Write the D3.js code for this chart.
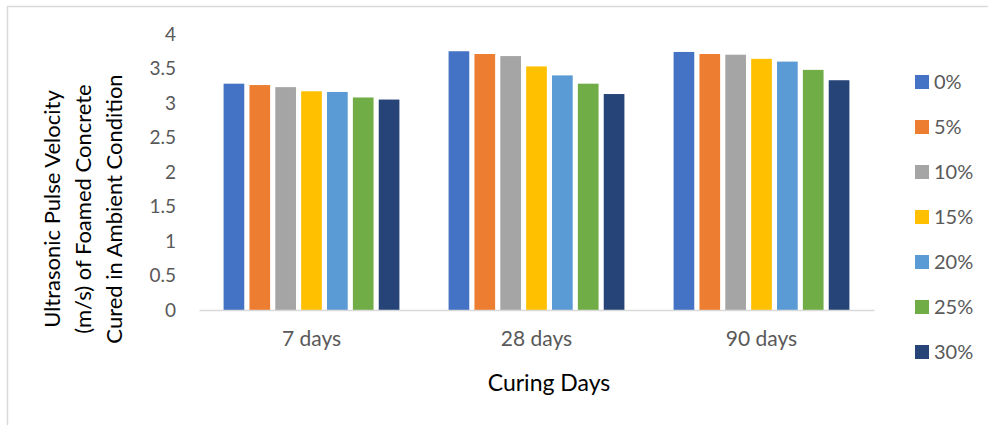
<!DOCTYPE html>
<html>
<head>
<meta charset="utf-8">
<script src="https://cdn.jsdelivr.net/npm/d3@7"></script>
<style>
  html, body { margin: 0; padding: 0; background: #fff; }
  svg { display: block; font-family: Lato, "Open Sans", sans-serif; }
</style>
</head>
<body>
<svg id="chart" width="988" height="425"></svg>
<script>
// Curing ages on the category axis
const categories = ["7 days", "28 days", "90 days"];
// Replacement levels shown in the legend
const seriesNames = ["0%", "5%", "10%", "15%", "20%", "25%", "30%"];
// Ultrasonic pulse velocity for each replacement level, per curing age
const v0  = [3.28, 3.75, 3.74];
const v5  = [3.26, 3.71, 3.71];
const v10 = [3.23, 3.68, 3.70];
const v15 = [3.17, 3.53, 3.64];
const v20 = [3.16, 3.40, 3.60];
const v25 = [3.08, 3.28, 3.48];
const v30 = [3.05, 3.13, 3.33];
const seriesValues = [v0, v5, v10, v15, v20, v25, v30];
const yTicks = [0, 0.5, 1, 1.5, 2, 2.5, 3, 3.5, 4];
const colors = ["#4472C4", "#ED7D31", "#A5A5A5", "#FFC000", "#5B9BD5", "#70AD47", "#264478"];

const svg = d3.select("#chart");

// outer chart frame
svg.append("path")
  .attr("d", "M7.5,430 V6.5 H995")
  .attr("fill", "none")
  .attr("stroke", "#d9d9d9")
  .attr("stroke-width", 1.5);

const plot = { left: 199, right: 874, top: 34, bottom: 310 };

const x0 = d3.scaleBand()
  .domain(categories)
  .range([plot.left, plot.right])
  .paddingInner(0)
  .paddingOuter(0);

const x1 = d3.scaleBand()
  .domain(seriesNames)
  .range([22, x0.bandwidth() - 22])
  .paddingInner(0.2)
  .paddingOuter(0.1);

const y = d3.scaleLinear().domain([0, 4]).range([plot.bottom, plot.top]);

// bars
const rows = categories.map((c, i) => ({
  cat: c,
  vals: seriesNames.map((s, j) => ({ s, v: seriesValues[j][i], c: colors[j] }))
}));

svg.append("g").selectAll("g")
  .data(rows)
  .join("g")
  .attr("transform", d => `translate(${x0(d.cat)},0)`)
  .selectAll("rect")
  .data(d => d.vals)
  .join("rect")
  .attr("x", d => x1(d.s))
  .attr("width", x1.bandwidth())
  .attr("y", d => y(d.v))
  .attr("height", d => y(0) - y(d.v))
  .attr("fill", d => d.c);

// y axis labels
const yAxis = svg.append("g")
  .attr("transform", `translate(${plot.left - 23},0)`)
  .call(d3.axisLeft(y).tickValues(yTicks).tickSize(0).tickPadding(0).tickFormat(d3.format("")));
yAxis.select(".domain").remove();
yAxis.selectAll("text")
  .attr("fill", "#595959")
  .style("font-size", "19px")
  .style("font-family", "Lato, 'Open Sans', sans-serif");

// x axis
const xAxis = svg.append("g")
  .attr("transform", `translate(0,${plot.bottom})`)
  .call(d3.axisBottom(x0).tickSize(0).tickPadding(21));
xAxis.select(".domain").attr("stroke", "#d9d9d9").attr("stroke-width", 1.5);
xAxis.selectAll("text")
  .attr("fill", "#595959")
  .style("font-size", "21px")
  .style("font-family", "Lato, 'Open Sans', sans-serif");

// axis titles
svg.append("text")
  .attr("x", 549)
  .attr("y", 391)
  .attr("text-anchor", "middle")
  .attr("fill", "#000")
  .style("font-size", "23px")
  .text("Curing Days");

const yTitle = ["Ultrasonic Pulse Velocity", "(m/s) of Foamed Concrete", "Cured in Ambient Condition"];
svg.append("g")
  .attr("transform", "translate(60,209) rotate(-90)")
  .selectAll("text")
  .data(yTitle)
  .join("text")
  .attr("x", 0)
  .attr("y", (d, i) => i * 31)
  .attr("text-anchor", "middle")
  .attr("fill", "#000")
  .style("font-size", "22px")
  .text(d => d);

// legend
const legend = svg.append("g")
  .selectAll("g")
  .data(seriesNames)
  .join("g")
  .attr("transform", (d, i) => `translate(915,${82 + i * 45})`);
legend.append("rect")
  .attr("x", 0).attr("y", -7)
  .attr("width", 14).attr("height", 14)
  .attr("fill", (d, i) => colors[i]);
legend.append("text")
  .attr("x", 19)
  .attr("y", 0)
  .attr("dy", "0.36em")
  .attr("fill", "#595959")
  .style("font-size", "20px")
  .text(d => d);
</script>
</body>
</html>
